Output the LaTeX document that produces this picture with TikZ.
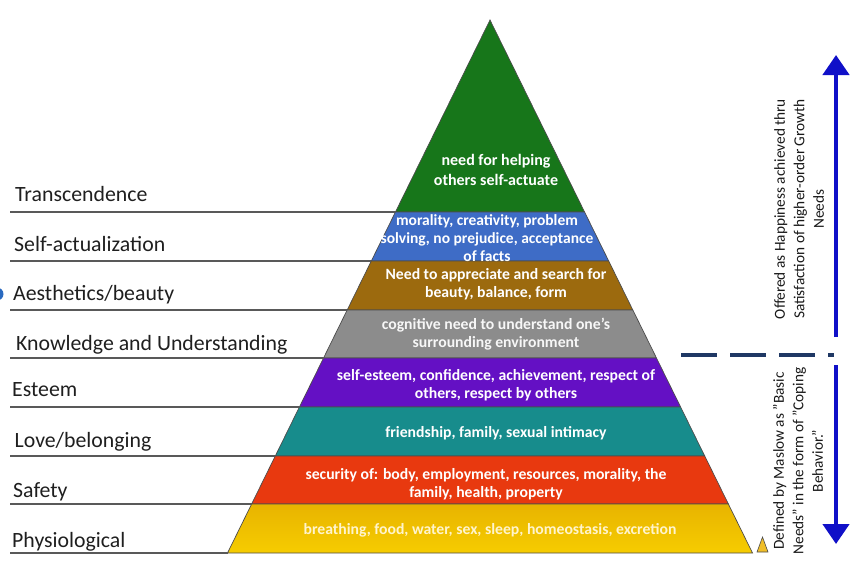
\documentclass[tikz,border=0pt]{standalone}
\usepackage{fontspec}
\setmainfont{Carlito}
\usetikzlibrary{arrows.meta}
\definecolor{cgreen}{HTML}{17761A}
\definecolor{cblue}{HTML}{3E6CC6}
\definecolor{cbrown}{HTML}{9C6A0E}
\definecolor{cgray}{HTML}{8C8C8C}
\definecolor{cpurple}{HTML}{6410C4}
\definecolor{cteal}{HTML}{178C8C}
\definecolor{cred}{HTML}{E8390F}
\definecolor{cyellowa}{HTML}{E8B400}
\definecolor{cyellowb}{HTML}{F6CC00}
\definecolor{arrowblue}{HTML}{1010C8}
\definecolor{navy}{HTML}{1F3864}
\definecolor{iconblue}{HTML}{2A6AC0}
\begin{document}
\begin{tikzpicture}[x=1pt,y=-1pt,
  band/.style={draw=black!70, line width=0.7pt},
  bandtext/.style={text=white, font=\bfseries\fontsize{15.7}{18.5}\selectfont, align=center, inner sep=0pt},
  lvl/.style={anchor=base west, font=\fontsize{21.8}{25}\selectfont, text=black!88, inner sep=0pt},
  guide/.style={draw=black!65, line width=1.1pt},
  sidetext/.style={rotate=90, align=center, font=\fontsize{15.3}{19.5}\selectfont, text=black!90, inner sep=0pt},
  bigarrow/.style={draw=arrowblue, line width=4.5pt, -{Triangle[width=26pt,length=20pt]}}
]
\useasboundingbox (0,0) rectangle (850,565);
% pyramid bands
\foreach \ya/\yb/\c in {20/212/cgreen, 212/261/cblue, 261/310/cbrown, 310/358/cgray, 358/407/cpurple, 407/456/cteal, 456/504/cred}{
  \filldraw[band, fill=\c] ({490-0.4925*(\ya-20)},\ya) -- ({490+0.4925*(\ya-20)},\ya)
     -- ({490+0.4925*(\yb-20)},\yb) -- ({490-0.4925*(\yb-20)},\yb) -- cycle;
}
\shade[top color=cyellowa, bottom color=cyellowb, draw=black!70, line width=0.7pt]
  ({490-0.4925*(504-20)},504) -- ({490+0.4925*(504-20)},504)
  -- ({490+0.4925*(553-20)},553) -- ({490-0.4925*(553-20)},553) -- cycle;
% band texts
\node[bandtext, font=\bfseries\fontsize{16}{20}\selectfont] (tgreen) at (496,170) {need for helping\\others self-actuate};
\node[bandtext, font=\bfseries\fontsize{15.5}{18}\selectfont] (tblue) at (487,238) {morality, creativity, problem\\solving, no prejudice, acceptance\\of facts};
\node[bandtext] (tbrown) at (496,284) {Need to appreciate and search for\\beauty, balance, form};
\node[bandtext, text=white!94!gray] (tgray) at (496,334) {cognitive need to understand one’s\\surrounding environment};
\node[bandtext] (tpurple) at (496,385) {self-esteem, confidence, achievement, respect of\\others, respect by others};
\node[bandtext] (tteal) at (496,433) {friendship, family, sexual intimacy};
\node[bandtext] (tred) at (486,484) {security of: body, employment, resources, morality, the\\family, health, property};
\node[bandtext, text={rgb,255:red,255;green,244;blue,205}] (tyellow) at (490,530) {breathing, food, water, sex, sleep, homeostasis, excretion};
% left guide lines
\foreach \y/\n in {212/a, 261/b, 310/c, 358/d, 407/e, 456/f, 504/g, 553/h}{
  \coordinate (L\n) at (10,\y);
  \coordinate (R\n) at ({490-0.4925*(\y-20)},\y);
  \draw[guide] (L\n) -- (R\n);
}
% left labels
\node[lvl] (l1) at (15,201) {Transcendence};
\node[lvl] (l2) at (14,251) {Self-actualization};
\node[lvl] (l3) at (13,300) {Aesthetics/beauty};
\node[lvl] (l4) at (16,350) {Knowledge and Understanding};
\node[lvl] (l5) at (12,396) {Esteem};
\node[lvl] (l6) at (14.5,447) {Love/belonging};
\node[lvl] (l7) at (13,497) {Safety};
\node[lvl] (l8) at (12,547) {Physiological};
% cut icons at edges
\fill[iconblue] (-3,294) circle (6.5);
\filldraw[fill={rgb,255:red,240;green,190;blue,40}, draw=black!70, line width=0.6pt] (757,552) -- (768,552) -- (762.5,537) -- cycle;
% right side
\coordinate (upS) at (836,337);
\coordinate (upE) at (836,55);
\coordinate (dnS) at (836,365);
\coordinate (dnE) at (836,544);
\draw[bigarrow] (upS) -- (upE);
\draw[bigarrow] (dnS) -- (dnE);
\coordinate (dashA) at (681,355);
\coordinate (dashB) at (834,355);
\draw[navy, line width=4pt, dash pattern=on 36pt off 13pt] (dashA) -- (dashB);
\node[sidetext] (s1) at (799,209) {Offered as Happiness achieved thru\\Satisfaction of higher-order Growth\\Needs};
\node[sidetext] (s2) at (798,461) {Defined by Maslow as "Basic\\Needs" in the form of "Coping\\Behavior."};
\end{tikzpicture}
\end{document}
